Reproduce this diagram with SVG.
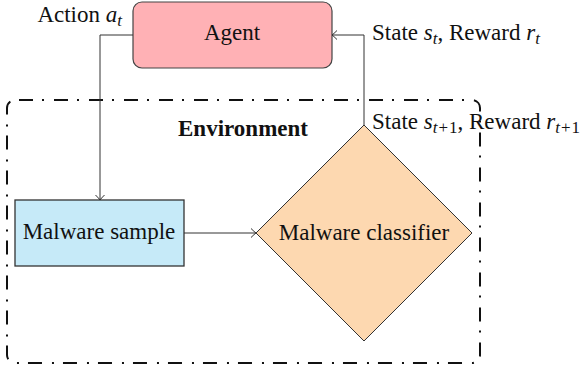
<svg xmlns="http://www.w3.org/2000/svg" width="587" height="371" viewBox="0 0 587 371">
<style>
text{font-family:"Liberation Serif","Times New Roman",serif;font-size:23px;fill:#111}
.it{font-style:italic}
.conn{fill:none;stroke:#333;stroke-width:1}
</style>
<defs>
<marker id="arr" viewBox="-6 -6 8 12" markerWidth="8" markerHeight="12" refX="0" refY="0" orient="auto" markerUnits="userSpaceOnUse">
<path d="M-5,-4.5 Q-1.5,-1 0,0 Q-1.5,1 -5,4.5" fill="none" stroke="#333" stroke-width="1"/>
</marker>
</defs>
<g id="environment">
<rect x="7" y="100" width="473" height="263" rx="8" fill="none" stroke="#111" stroke-width="2" stroke-dasharray="14 9 2 10" stroke-dashoffset="-4"/>
<text x="243" y="136" text-anchor="middle" font-weight="bold">Environment</text>
</g>
<g id="agent">
<rect x="133" y="2" width="199" height="66" rx="9" fill="#ffb1b5" stroke="#444" stroke-width="1.2"/>
<text x="232" y="40" text-anchor="middle">Agent</text>
</g>
<g id="sample">
<rect x="15" y="200" width="169" height="66" fill="#c6eaf8" stroke="#333" stroke-width="1.3"/>
<text x="99" y="239" text-anchor="middle">Malware sample</text>
</g>
<g id="classifier">
<polygon points="256,233 364,125 472,233 364,341" fill="#fdd8b0" stroke="#333" stroke-width="1"/>
<text x="364" y="240" text-anchor="middle">Malware classifier</text>
</g>
<g id="connectors">
<path class="conn" d="M133,35 H100 V200" marker-end="url(#arr)"/>
<path class="conn" d="M184,233 H256" marker-end="url(#arr)"/>
<path class="conn" d="M364,125 V35 H332" marker-end="url(#arr)"/>
</g>
<g id="labels">
<text x="122" y="22" text-anchor="end">Action <tspan class="it">a</tspan><tspan class="it" font-size="17" dy="4">t</tspan></text>
<text x="372" y="40">State <tspan class="it">s</tspan><tspan class="it" font-size="17" dy="4">t</tspan><tspan dy="-4">, Reward </tspan><tspan class="it">r</tspan><tspan class="it" font-size="17" dy="4">t</tspan></text>
<text x="372" y="129">State <tspan class="it">s</tspan><tspan font-size="17" dy="4"><tspan class="it">t</tspan><tspan dx="1">+</tspan><tspan dx="1">1</tspan></tspan><tspan dy="-4">, Reward </tspan><tspan class="it">r</tspan><tspan font-size="17" dy="4"><tspan class="it">t</tspan><tspan dx="1">+</tspan><tspan dx="1">1</tspan></tspan></text>
</g>
</svg>
